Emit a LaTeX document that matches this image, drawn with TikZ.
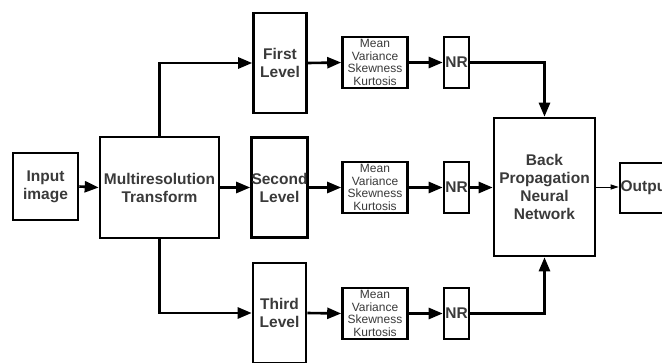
\documentclass[tikz,border=0pt]{standalone}
\usepackage{fontspec}
\setmainfont{Liberation Sans}
\usetikzlibrary{arrows.meta, positioning, calc}
\definecolor{txtgray}{HTML}{3A3A3A}

\begin{document}
\begin{tikzpicture}[x=1pt, y=-1pt,
  blk/.style={rectangle, draw=black, line width=2.6pt, fill=white, inner sep=0pt, align=center,
    text=txtgray, font=\bfseries\fontsize{15.5}{18}\selectfont},
  stat/.style={blk, font=\fontsize{12}{12.8}\selectfont, minimum width=65pt, minimum height=51pt},
  nrbox/.style={blk, minimum width=25pt, minimum height=51pt},
  lvl/.style={blk, minimum width=53pt, minimum height=100pt},
  flow/.style={line width=2.6pt, -{Triangle[length=14pt, width=11pt]}},
  thin flow/.style={line width=0.9pt, -{Triangle[length=8pt, width=5pt]}}]
  \useasboundingbox (0,0) rectangle (662,362);
  % input and transform
  \node[blk, minimum width=65pt, minimum height=67pt] (inp) at (45.5,186.5) {Input\\image};
  \node[blk, minimum width=119pt, minimum height=101pt] (mrt) at (159.5,187.5) {Multiresolution\\Transform};
  % decomposition levels
  \node[lvl] (lvl1) at (280,63) {First\\Level};
  \node[lvl] (lvl2) at (279.5,187.5) {Second\\Level};
  \node[lvl] (lvl3) at (279.5,313) {Third\\Level};
  % statistical features
  \node[stat] (st1) at (375,62.5) {Mean\\Variance\\Skewness\\Kurtosis};
  \node[stat] (st2) at (375,187.5) {Mean\\Variance\\Skewness\\Kurtosis};
  \node[stat] (st3) at (375,313.5) {Mean\\Variance\\Skewness\\Kurtosis};
  \node[nrbox] (nr1) at (456.5,62.5) {NR};
  \node[nrbox] (nr2) at (456.5,187.5) {NR};
  \node[nrbox] (nr3) at (456.5,313.5) {NR};
  % classifier and output
  \node[blk, minimum width=101pt, minimum height=138pt] (bp) at (544.5,187) {Back\\Propagation\\Neural\\Network};
  \node[blk, minimum width=52pt, minimum height=50pt] (out) at (646,188) {Output};

  \draw[flow] (inp.east) -- (mrt.west);
  \draw[flow] (mrt.east) -- (lvl2.west);
  \draw[flow] (mrt.north) |- (lvl1.west);
  \draw[flow] (mrt.south) |- (lvl3.west);
  \foreach \i in {1,2,3} {
    \draw[flow] (lvl\i.east) -- (st\i.west);
    \draw[flow] (st\i.east) -- (nr\i.west);
  }
  \draw[flow] (nr1.east) -| (bp.north);
  \draw[flow] (nr2.east) -- (nr2.east -| bp.west);
  \draw[flow] (nr3.east) -| (bp.south);
  \draw[thin flow] (bp.east) -- (bp.east -| out.west);
\end{tikzpicture}
\end{document}
